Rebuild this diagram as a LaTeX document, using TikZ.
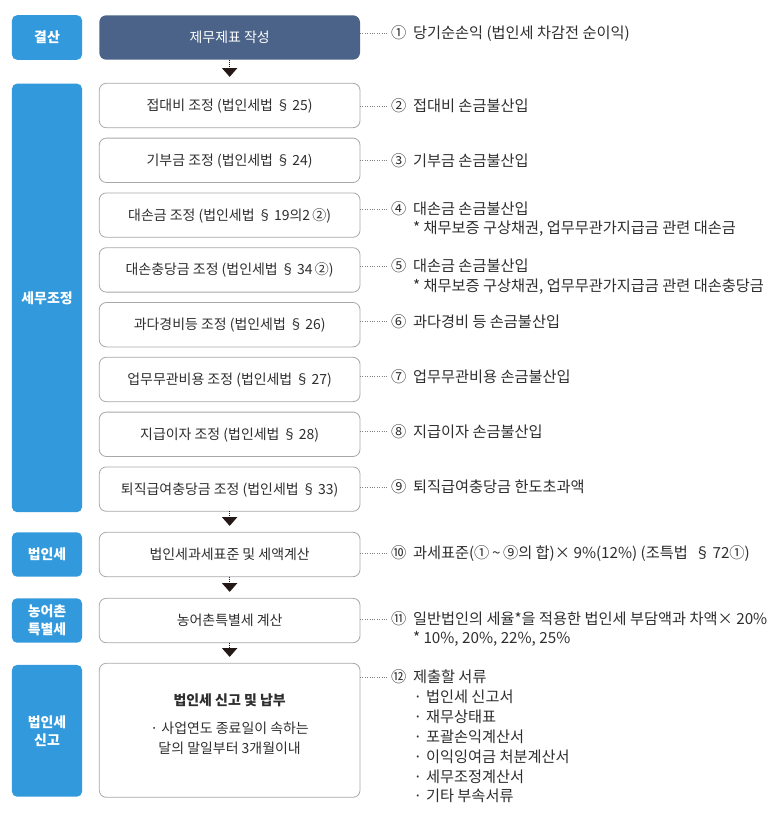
\documentclass[tikz,border=0pt]{standalone}
\usepackage{fontspec}
\setmainfont{Noto Sans CJK KR}
\usetikzlibrary{arrows.meta}
\definecolor{labblue}{HTML}{3199DC}
\definecolor{darkbox}{HTML}{4B6389}
\definecolor{boxline}{HTML}{A8A8A8}
\definecolor{txt}{HTML}{2E2E2E}
\definecolor{dotc}{HTML}{808080}
\definecolor{tri}{HTML}{231815}
\newcommand{\cnum}[1]{\makebox[22bp][l]{#1}}
\newcommand{\bdot}{\makebox[16bp][c]{·}}
\begin{document}
\begin{tikzpicture}[x=1bp,y=-1bp,
 every node/.style={inner sep=0pt, outer sep=0pt},
 lab/.style={fill=labblue, rounded corners=5bp, text=white, font=\fontsize{14}{18}\selectfont\bfseries, minimum width=70bp, align=center},
 stepbox/.style={draw=boxline, line width=0.8bp, fill=white, rounded corners=7bp, minimum width=260.7bp, minimum height=44.4bp, text=txt, font=\fontsize{14}{18}\selectfont, text height=12bp, text depth=2bp},
 note/.style={anchor=west, text=txt, font=\fontsize{15.3}{19}\selectfont, text height=13bp, text depth=2.2bp},
 dotline/.style={dotc, line width=0.7bp, dash pattern=on 0.8bp off 1.6bp},
 flow/.style={tri, line width=0.7bp, dash pattern=on 0.8bp off 1.2bp, shorten >=6.5bp, -{Triangle[width=15.3bp,length=8.7bp]}},
]
\useasboundingbox (0,0) rectangle (782,821);
% left labels
\node[lab, minimum height=44.5bp] (l1) at (47,37.5) {결산};
\node[lab, minimum height=428.5bp] (l2) at (47,297.9) {세무조정};
\node[lab, minimum height=44.4bp] (l3) at (47,554.5) {법인세};
\node[lab, minimum height=44.4bp] (l4) at (47,620.5) {농어촌\\특별세};
\node[lab, minimum height=131.7bp] (l5) at (47,730.8) {법인세\\신고};
% boxes
\node[stepbox, fill=darkbox, draw=none, text=white] (b1) at (229.65,37.5) {제무제표 작성};
\node[stepbox] (b2) at (229.65,105.5) {접대비 조정 (법인세법 §\,25)};
\node[stepbox] (b3) at (229.65,160.3) {기부금 조정 (법인세법 §\,24)};
\node[stepbox] (b4) at (229.65,215.1) {대손금 조정 (법인세법 §\,19의2\,②)};
\node[stepbox] (b5) at (229.65,269.9) {대손충당금 조정 (법인세법 §\,34\,②)};
\node[stepbox] (b6) at (229.65,324.7) {과다경비등 조정 (법인세법 §\,26)};
\node[stepbox] (b7) at (229.65,379.5) {업무무관비용 조정 (법인세법 §\,27)};
\node[stepbox] (b8) at (229.65,434.3) {지급이자 조정 (법인세법 §\,28)};
\node[stepbox] (b9) at (229.65,489.1) {퇴직급여충당금 조정 (법인세법 §\,33)};
\node[stepbox] (b10) at (229.65,554.5) {법인세과세표준 및 세액계산};
\node[stepbox] (b11) at (229.65,620.5) {농어촌특별세 계산};
\node[stepbox, minimum height=134bp] (b12) at (229.65,730.3) {};
\node[text=txt, font=\fontsize{14}{18}\selectfont\bfseries] (t12) at (229.65,700) {법인세 신고 및 납부};
\node[text=txt, font=\fontsize{14}{19.6}\selectfont, align=center] (d12) at (229.65,738.5) {· 사업연도 종료일이 속하는\\달의 말일부터 3개월이내};
% flow arrows
\draw[flow] (b1.south) -- (b2.north);
\draw[flow] (b9.south) -- (b10.north);
\draw[flow] (b10.south) -- (b11.north);
\draw[flow] (b11.south) -- (b12.north);
% notes
\node[note] (n1) at (391,33.3) {\cnum{①}당기순손익 (법인세 차감전 순이익)};
\node[note] (n2) at (391,106) {\cnum{②}접대비 손금불산입};
\node[note] (n3) at (391,160.7) {\cnum{③}기부금 손금불산입};
\node[note] (n4) at (391,209) {\cnum{④}대손금 손금불산입};
\node[note] (n4b) at (413,227.8) {* 채무보증 구상채권, 업무무관가지급금 관련 대손금};
\node[note] (n5) at (391,266.5) {\cnum{⑤}대손금 손금불산입};
\node[note] (n5b) at (413,286.3) {* 채무보증 구상채권, 업무무관가지급금 관련 대손충당금};
\node[note] (n6) at (391,321.7) {\cnum{⑥}과다경비 등 손금불산입};
\node[note] (n7) at (391,376.7) {\cnum{⑦}업무무관비용 손금불산입};
\node[note] (n8) at (391,431.7) {\cnum{⑧}지급이자 손금불산입};
\node[note] (n9) at (391,487.3) {\cnum{⑨}퇴직급여충당금 한도초과액};
\node[note] (n10) at (391,553) {\cnum{⑩}과세표준(①\,\textasciitilde\,⑨의 합)× 9\%(12\%) (조특법 \ §\,72①)};
\node[note] (n11) at (391,619) {\cnum{⑪}일반법인의 세율*을 적용한 법인세 부담액과 차액× 20\%};
\node[note] (n11b) at (413,638) {* 10\%, 20\%, 22\%, 25\%};
\node[note] (n12) at (391,677) {\cnum{⑫}제출할 서류};
\node[note] (s1) at (410,697.5) {\bdot 법인세 신고서};
\node[note] (s2) at (410,717.3) {\bdot 재무상태표};
\node[note] (s3) at (410,737.1) {\bdot 포괄손익계산서};
\node[note] (s4) at (410,756.9) {\bdot 이익잉여금 처분계산서};
\node[note] (s5) at (410,776.7) {\bdot 세무조정계산서};
\node[note] (s6) at (410,796.5) {\bdot 기타 부속서류};
% dotted connectors
\foreach \b/\n in {b1/n1,b2/n2,b3/n3,b4/n4,b5/n5,b6/n6,b7/n7,b8/n8,b9/n9,b10/n10,b11/n11,b12/n12}
  \draw[dotline] (\b.east |- \n.west) -- ([xshift=-3bp]\n.west);
\end{tikzpicture}
\end{document}
